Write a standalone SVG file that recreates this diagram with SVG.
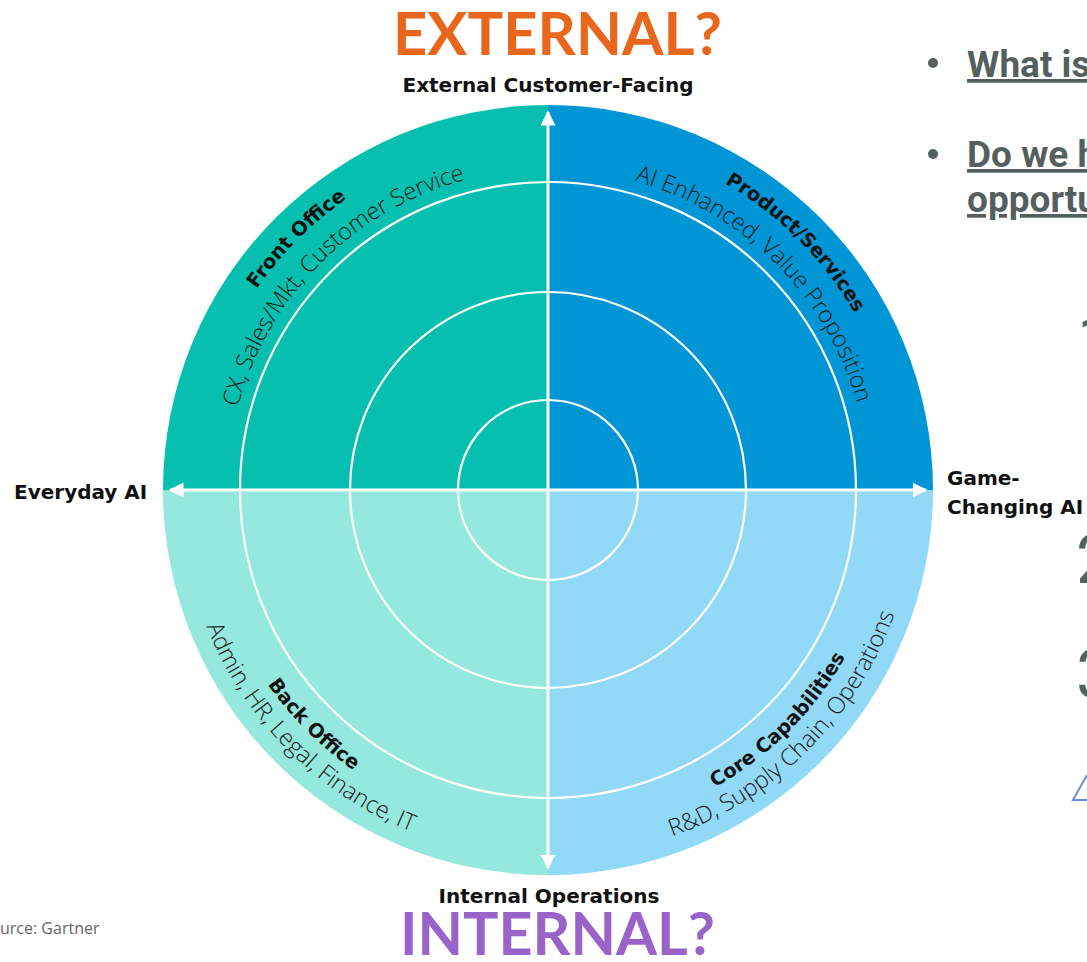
<svg xmlns="http://www.w3.org/2000/svg" width="1087" height="962" viewBox="0 0 1087 962">
  <style>
    .ring{fill:none;stroke:#fff;stroke-width:2.2}
    .axis{stroke:#fff;stroke-width:3;fill:none}
    .lbl{font-family:"DejaVu Sans","Liberation Sans",sans-serif;font-weight:bold;font-size:20px;fill:#111}
    .qt{font-family:"DejaVu Sans","Liberation Sans",sans-serif;font-weight:bold;font-size:19.5px;fill:#111}
    .qd{font-family:"Open Sans","Liberation Sans",sans-serif;font-weight:300;font-size:23.5px;fill:#1a1a1a}
    .big{font-family:Lato,"Liberation Sans",sans-serif;font-weight:bold;font-size:60px}
    .bul{font-family:Roboto,"Liberation Sans",sans-serif;font-weight:bold;font-size:37px;fill:#555f5f;text-decoration:underline}
    .num{font-family:Roboto,"Liberation Sans",sans-serif;font-size:68px;fill:#555f5f}
  </style>
  <defs>
    <marker id="arr" viewBox="0 0 10 10" refX="9" refY="5" markerWidth="5" markerHeight="5" orient="auto-start-reverse" markerUnits="strokeWidth">
      <path d="M0,0 L10,5 L0,10 Z" fill="#fff"/>
    </marker>
    <path id="tlT" d="M194,490 A354,354 0 0 1 548,136"/>
    <path id="tlD" d="M227,490 A321,321 0 0 1 548,169"/>
    <path id="trT" d="M548,136 A354,354 0 0 1 902,490"/>
    <path id="trD" d="M548,169 A321,321 0 0 1 869,490"/>
    <path id="blT" d="M207,490 A341,341 0 0 0 548,831"/>
    <path id="blD" d="M180,490 A368,368 0 0 0 548,858"/>
    <path id="brT" d="M548,831 A341,341 0 0 0 889,490"/>
    <path id="brD" d="M548,858 A368,368 0 0 0 916,490"/>
  </defs>

  <rect width="1087" height="962" fill="#fff"/>

  <g id="quadrants">
    <path d="M548,490 L163,490 A385,385 0 0 1 548,105 Z" fill="#07bfae"/>
    <path d="M548,490 L548,105 A385,385 0 0 1 933,490 Z" fill="#0096d5"/>
    <path d="M548,490 L163,490 A385,385 0 0 0 548,875 Z" fill="#95e8de"/>
    <path d="M548,490 L548,875 A385,385 0 0 0 933,490 Z" fill="#91d9f6"/>
  </g>

  <g id="rings">
    <circle class="ring" cx="548" cy="490" r="308" stroke-width="3"/>
    <circle class="ring" cx="548" cy="490" r="198"/>
    <circle class="ring" cx="548" cy="490" r="90"/>
  </g>

  <g id="connectors">
    <line class="axis" x1="170" y1="490" x2="926" y2="490" marker-start="url(#arr)" marker-end="url(#arr)"/>
    <line class="axis" x1="548" y1="112" x2="548" y2="868" marker-start="url(#arr)" marker-end="url(#arr)"/>
  </g>

  <g id="front-office">
    <text class="qt"><textPath href="#tlT" startOffset="50%" text-anchor="middle">Front Office</textPath></text>
    <text class="qd"><textPath href="#tlD" startOffset="50%" text-anchor="middle">CX, Sales/Mkt, Customer Service</textPath></text>
  </g>
  <g id="product-services">
    <text class="qt"><textPath href="#trT" startOffset="50%" text-anchor="middle">Product/Services</textPath></text>
    <text class="qd"><textPath href="#trD" startOffset="50%" text-anchor="middle">AI Enhanced, Value Proposition</textPath></text>
  </g>
  <g id="back-office">
    <text class="qt"><textPath href="#blT" startOffset="50%" text-anchor="middle">Back Office</textPath></text>
    <text class="qd"><textPath href="#blD" startOffset="50%" text-anchor="middle">Admin, HR, Legal, Finance, IT</textPath></text>
  </g>
  <g id="core-capabilities">
    <text class="qt"><textPath href="#brT" startOffset="50%" text-anchor="middle">Core Capabilities</textPath></text>
    <text class="qd"><textPath href="#brD" startOffset="50%" text-anchor="middle">R&amp;D, Supply Chain, Operations</textPath></text>
  </g>

  <g id="axis-labels">
    <text class="lbl" x="548" y="92" text-anchor="middle">External Customer-Facing</text>
    <text class="lbl" x="549" y="903" text-anchor="middle">Internal Operations</text>
    <text class="lbl" x="14" y="499" font-size="21">Everyday AI</text>
    <text class="lbl" x="947" y="485" font-size="20">Game-</text>
    <text class="lbl" x="947" y="514" font-size="20">Changing AI</text>
  </g>

  <g id="titles">
    <text class="big" x="393" y="55" textLength="329" lengthAdjust="spacingAndGlyphs" fill="#e8671c">EXTERNAL?</text>
    <text class="big" x="400" y="955" textLength="315" lengthAdjust="spacingAndGlyphs" fill="#9963c9" font-size="58">INTERNAL?</text>
  </g>

  <g id="source">
    <text x="0" y="934" font-family="'Open Sans','Liberation Sans',sans-serif" font-size="16" fill="#666">urce: Gartner</text>
  </g>

  <g id="bullets">
    <circle cx="933" cy="63" r="5" fill="#555f5f"/>
    <text class="bul" x="967" y="77">What is</text>
    <circle cx="933" cy="154" r="5" fill="#555f5f"/>
    <text class="bul" x="967" y="167">Do we h</text>
    <text class="bul" x="967" y="212">opportu</text>
  </g>

  <g id="numbers">
    <text class="num" x="1077" y="364">1</text>
    <text class="num" x="1076" y="583">2</text>
    <text class="num" x="1076" y="698">3</text>
    <path d="M1087,775 L1073,800 L1087,800" fill="none" stroke="#6a8fd8" stroke-width="2"/>
  </g>
</svg>
